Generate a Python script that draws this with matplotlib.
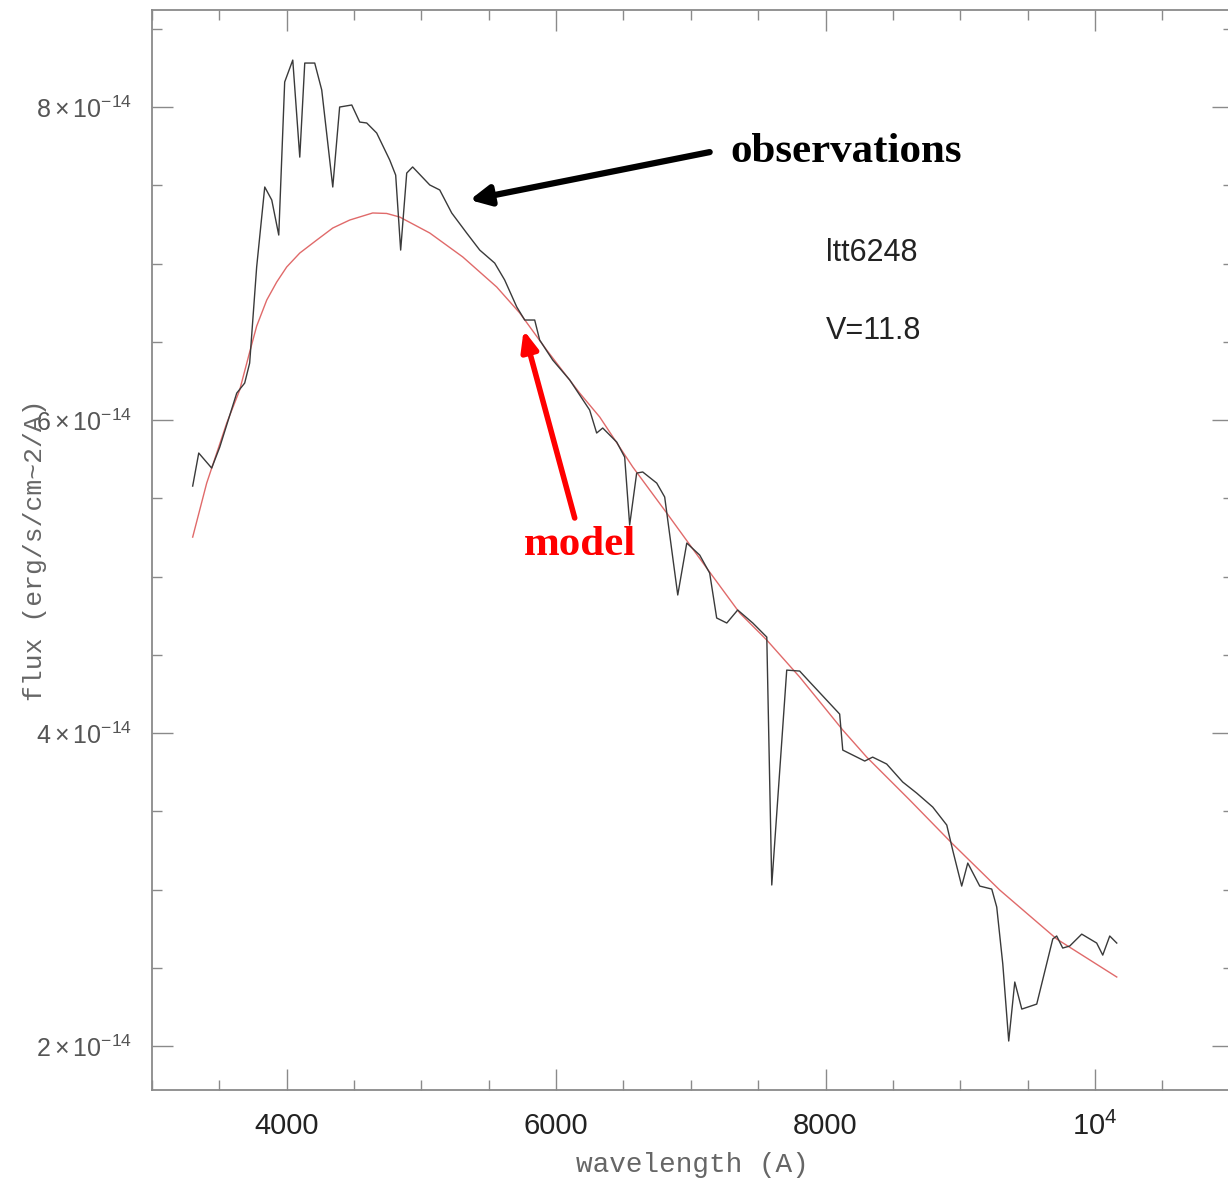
import matplotlib
matplotlib.use("Agg")
import matplotlib.pyplot as plt
from matplotlib.ticker import FixedLocator, MultipleLocator

# ---------------- data (flux in units of 1e-14 erg/s/cm^2/A) ----------------
obs_wave = [3302, 3347, 3443, 3503, 3629, 3688, 3725, 3777, 3837, 3889, 3941,
            3985, 4045, 4097, 4134, 4208, 4260, 4342, 4393, 4483, 4542, 4594,
            4668, 4765, 4809, 4846, 4891, 4935, 5062, 5136, 5225, 5336, 5433,
            5544, 5618, 5708, 5767, 5841, 5878, 5975, 6101, 6249, 6301, 6346,
            6450, 6509, 6546, 6598, 6643, 6747, 6806, 6903, 6970, 7066, 7140,
            7192, 7267, 7348, 7460, 7564, 7601, 7712, 7808, 7883, 8105, 8128,
            8291, 8350, 8454, 8573, 8677, 8796, 8900, 8944, 9011, 9056, 9145,
            9234, 9271, 9316, 9360, 9405, 9457, 9568, 9687, 9716, 9761, 9813,
            9902, 10013, 10058, 10110, 10162]
obs_flux = [5.578, 5.789, 5.693, 5.827, 6.172, 6.236, 6.364, 6.978, 7.489, 7.406,
            7.182, 8.160, 8.300, 7.680, 8.281, 8.281, 8.109, 7.489, 8.000, 8.013,
            7.904, 7.898, 7.834, 7.661, 7.565, 7.086, 7.578, 7.617, 7.502, 7.470,
            7.323, 7.195, 7.086, 7.003, 6.895, 6.722, 6.639, 6.639, 6.511, 6.383,
            6.256, 6.064, 5.917, 5.949, 5.859, 5.763, 5.329, 5.661, 5.668, 5.597,
            5.508, 4.882, 5.214, 5.137, 5.022, 4.735, 4.703, 4.786, 4.703, 4.613,
            3.029, 4.402, 4.396, 4.326, 4.121, 3.891, 3.821, 3.846, 3.802, 3.687,
            3.616, 3.527, 3.412, 3.252, 3.022, 3.169, 3.022, 3.003, 2.888, 2.524,
            2.032, 2.409, 2.236, 2.268, 2.684, 2.703, 2.626, 2.639, 2.715, 2.658,
            2.581, 2.703, 2.658]

model_wave = [3302, 3406, 3555, 3651, 3725, 3777, 3852, 3926, 4000, 4097, 4223,
              4342, 4468, 4638, 4742, 4839, 5062, 5307, 5559, 5730, 5930, 6175,
              6324, 6569, 6821, 7118, 7363, 7564, 7808, 8128, 8306, 8625, 8937,
              9293, 9716, 10162]
model_flux = [5.252, 5.597, 5.981, 6.192, 6.434, 6.600, 6.767, 6.882, 6.978,
              7.067, 7.150, 7.227, 7.278, 7.323, 7.320, 7.297, 7.195, 7.042,
              6.850, 6.684, 6.447, 6.172, 6.019, 5.700, 5.406, 5.054, 4.767,
              4.594, 4.358, 4.019, 3.846, 3.572, 3.297, 2.997, 2.684, 2.441]

ytick_vals = [2, 4, 6, 8]
ytick_labels = [r'$2\times10^{-14}$', r'$4\times10^{-14}$',
                r'$6\times10^{-14}$', r'$8\times10^{-14}$']
xtick_vals = [4000, 6000, 8000, 10000]
xtick_labels = ['4000', '6000', '8000', r'$10^4$']

# ---------------- figure ----------------
plt.rcParams['mathtext.fontset'] = 'custom'
plt.rcParams['mathtext.rm'] = 'Liberation Sans'
plt.rcParams['mathtext.it'] = 'Liberation Sans'

W, H = 1228, 1184
fig = plt.figure(figsize=(W / 100, H / 100), dpi=100)
ax = fig.add_axes([152 / W, (H - 1090) / H, (1233 - 152) / W, 1080 / H])

ax.plot(model_wave, model_flux, color='#e06a6a', lw=1.0, zorder=2)
ax.plot(obs_wave, obs_flux, color='#3a3a3a', lw=1.0, zorder=3)

ax.set_xlim(3000, 11025)
ax.set_ylim(1.719, 8.62)

spine_c = '#8a8a8a'
for s in ax.spines.values():
    s.set_color(spine_c)
    s.set_linewidth(1.3)

ax.xaxis.set_major_locator(FixedLocator(xtick_vals))
ax.xaxis.set_minor_locator(MultipleLocator(500))
ax.yaxis.set_major_locator(FixedLocator(ytick_vals))
ax.yaxis.set_minor_locator(MultipleLocator(0.5))
ax.set_xticklabels(xtick_labels)
ax.set_yticklabels(ytick_labels)

ax.tick_params(which='both', direction='in', top=True, right=True,
               color=spine_c, width=1.0)
ax.tick_params(which='major', length=15)
ax.tick_params(which='minor', length=7)
ax.tick_params(axis='x', which='major', labelsize=21, pad=16, labelcolor='#222222')
ax.tick_params(axis='y', which='major', labelsize=18, pad=14, labelcolor='#555555')
for lab in ax.get_xticklabels():
    lab.set_family('Liberation Sans')

ax.set_xlabel('wavelength (A)', fontsize=20, family='Liberation Mono',
              color='#666666', va='center')
ax.xaxis.set_label_coords(0.5, -0.069)
ax.set_ylabel('flux (erg/s/cm~2/A)', fontsize=19, family='Liberation Mono',
              color='#666666', va='center')
ax.yaxis.set_label_coords(-0.108, 0.5)

# ---------------- annotations ----------------
ax.text(8001, 7.067, 'ltt6248', fontsize=22, family='Liberation Sans',
        color='#222222', va='center', ha='left')
ax.text(8001, 6.569, 'V=11.8', fontsize=22, family='Liberation Sans',
        color='#222222', va='center', ha='left')

ax.text(7296, 7.712, 'observations', fontsize=31, family='Liberation Serif',
        weight='bold', color='black', va='center', ha='left')
ax.text(5759, 5.201, 'model', fontsize=31, family='Liberation Serif',
        weight='bold', color='#ff0000', va='center', ha='left')

ax.annotate('', xy=(5359, 7.406), xytext=(7140, 7.712),
            arrowprops=dict(arrowstyle='-|>,head_length=1.2,head_width=0.6',
                            lw=4.5, color='black', shrinkA=0, shrinkB=0))
ax.annotate('', xy=(5759, 6.575), xytext=(6138, 5.374),
            arrowprops=dict(arrowstyle='-|>,head_length=1.2,head_width=0.5',
                            lw=4.0, color='#ff0000', shrinkA=0, shrinkB=0))

fig.savefig('out.png', dpi=100)
